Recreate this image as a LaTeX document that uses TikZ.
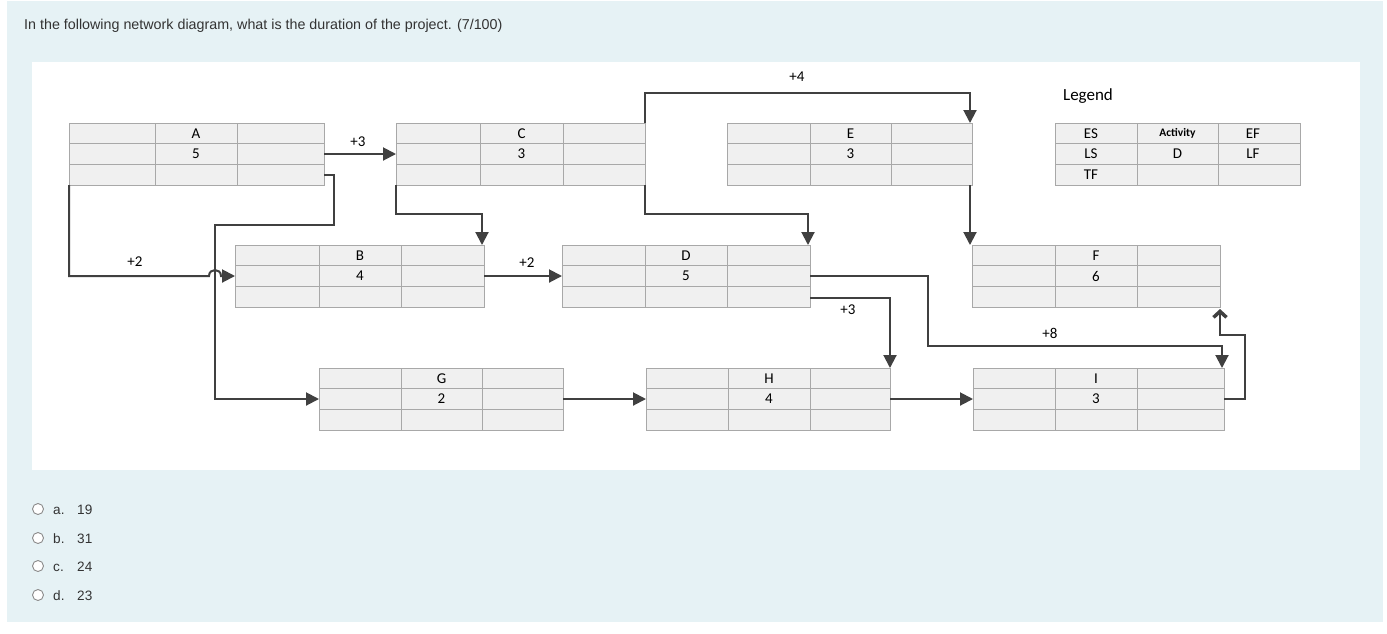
\documentclass[tikz,border=0pt]{standalone}
\usepackage{fontspec}
\setmainfont{Liberation Sans}
\newfontfamily\carl{Carlito}
\usetikzlibrary{arrows.meta,calc}
\definecolor{panel}{HTML}{E6F2F5}
\definecolor{lin}{HTML}{404040}
\definecolor{cellfill}{HTML}{F0F0F0}
\definecolor{cellline}{HTML}{A8A8A8}
\definecolor{qtext}{HTML}{333333}
\definecolor{radio}{HTML}{8A8A8A}
\tikzset{
  cellbox/.style={draw=cellline, fill=cellfill, line width=1pt, inner sep=0pt, outer sep=0pt, rectangle},
  gridln/.style={draw=cellline, line width=1pt},
  celltext/.style={font=\carl\fontsize{15}{17}\selectfont, inner sep=0pt, text=black},
  conn/.style={draw=lin, line width=2pt, -{Triangle[length=13pt,width=13pt]}},
  connb/.style={draw=lin, line width=2pt, -{Straight Barb[length=6pt,width=13pt,line width=3.5pt]}},
  lbl/.style={font=\carl\fontsize{15}{17}\selectfont, inner sep=0pt, text=black},
  qstyle/.style={font=\fontsize{14.3}{16}\selectfont, text=qtext, inner sep=0pt, anchor=base west},
  ostyle/.style={font=\fontsize{13.6}{16}\selectfont, text=qtext, inner sep=0pt, anchor=base west},
  radiob/.style={circle, draw=radio, fill=white, line width=0.9pt, minimum size=11pt, inner sep=0pt},
}
\newcommand\actbox[8]{%
  \node[cellbox, anchor=north west, minimum width={(#4)-(#2)}, minimum height=62] (#1) at (#2,#3) {};
  \draw[gridln] (#5,#3) -- (#5,#3+62) (#6,#3) -- (#6,#3+62)
     (#2,#3+20.5) -- (#4,#3+20.5) (#2,#3+41) -- (#4,#3+41);
  \node[celltext] (#1t) at ({(#5+#6)/2},#3+10.5) {#7};
  \node[celltext] (#1d) at ({(#5+#6)/2},#3+31) {#8};
}
\begin{document}
\begin{tikzpicture}[x=1pt,y=-1pt]
\useasboundingbox (0,0) rectangle (1387,633);
\fill[white] (0,0) rectangle (1387,633);
\fill[panel] (7,1) rectangle (1383,622);
\fill[white] (32,62) rectangle (1360,470);

\node[qstyle] (q) at (24,29) {In the following network diagram, what is the duration of the project. (7/100)};

% boxes
\actbox{A}{69}{123}{324}{155}{237}{A}{5}
\actbox{C}{396}{123}{645}{480}{563}{C}{3}
\actbox{E}{727}{123}{972}{810}{891}{E}{3}
\actbox{B}{235}{245}{484}{319}{401}{B}{4}
\actbox{D}{562}{245}{810}{645}{727}{D}{5}
\actbox{F}{972}{245}{1220}{1055}{1137}{F}{6}
\actbox{G}{319}{368}{563}{401}{482}{G}{2}
\actbox{H}{646}{368}{890}{728}{810}{H}{4}
\actbox{I}{973}{368}{1224}{1055}{1137}{I}{3}

% legend
\node[font=\carl\fontsize{17}{19}\selectfont, inner sep=0pt] (leg) at (1088,96) {Legend};
\actbox{L}{1055}{123}{1300}{1137}{1218}{\bfseries\fontsize{11.5}{13}\selectfont Activity}{D}
\node[celltext] (Les) at (1091,133.5) {ES};
\node[celltext] (Lef) at (1253,133.5) {EF};
\node[celltext] (Lls) at (1091,154) {LS};
\node[celltext] (Llf) at (1253,154) {LF};
\node[celltext] (Ltf) at (1091,174.5) {TF};

% connectors
\draw[conn] (A.east) -- (C.west);
\draw[conn] ($(A.south east)+(0,-10)$) -- ++(10,0) |- (215,225) |- (G.west);
\draw[conn] (A.south west) |- (209,276) .. controls (209,268) and (221,268) .. (221,276) -- (B.west);
\draw[conn] (C.south west) -- ++(0,29) -| ($(B.north east)+(-2,0)$);
\draw[conn] (C.north east) -- ++(0,-30) -| ($(E.north east)+(-2,0)$);
\draw[conn] (C.south east) -- ++(0,29) -| ($(D.north east)+(-2,0)$);
\draw[conn] ($(E.south east)+(-2,0)$) -- ($(F.north west)+(-2,0)$);
\draw[conn] (B.east) -- (D.west);
\draw[conn] (D.east) -- ++(118,0) |- ($(I.north east)+(-2,-22)$) -- ($(I.north east)+(-2,0)$);
\draw[conn] ($(D.south east)+(0,-9)$) -| (H.north east);
\draw[conn] (G.east) -- (H.west);
\draw[conn] (H.east) -- (I.west);
\draw[connb] (I.east) -- ++(21,0) |- ($(F.south east)+(0,28)$) -- ($(F.south east)+(0,2)$);

% connector labels
\node[lbl] (l1) at (358,142) {+3};
\node[lbl] (l2) at (135,262) {+2};
\node[lbl] (l3) at (797,77) {+4};
\node[lbl] (l4) at (527,263) {+2};
\node[lbl] (l5) at (848,310) {+3};
\node[lbl] (l6) at (1050,333) {+8};

% answers
\node[radiob] (ra) at (38,509) {};
\node[radiob] (rb) at (38,538) {};
\node[radiob] (rc) at (38,566) {};
\node[radiob] (rd) at (38,595) {};
\node[ostyle] (ta) at (53,514) {a.};
\node[ostyle] (tb) at (53,543) {b.};
\node[ostyle] (tc) at (53,571) {c.};
\node[ostyle] (td) at (53,600) {d.};
\node[ostyle] (va) at (77,514) {19};
\node[ostyle] (vb) at (77,543) {31};
\node[ostyle] (vc) at (77,571) {24};
\node[ostyle] (vd) at (77,600) {23};
\end{tikzpicture}
\end{document}
